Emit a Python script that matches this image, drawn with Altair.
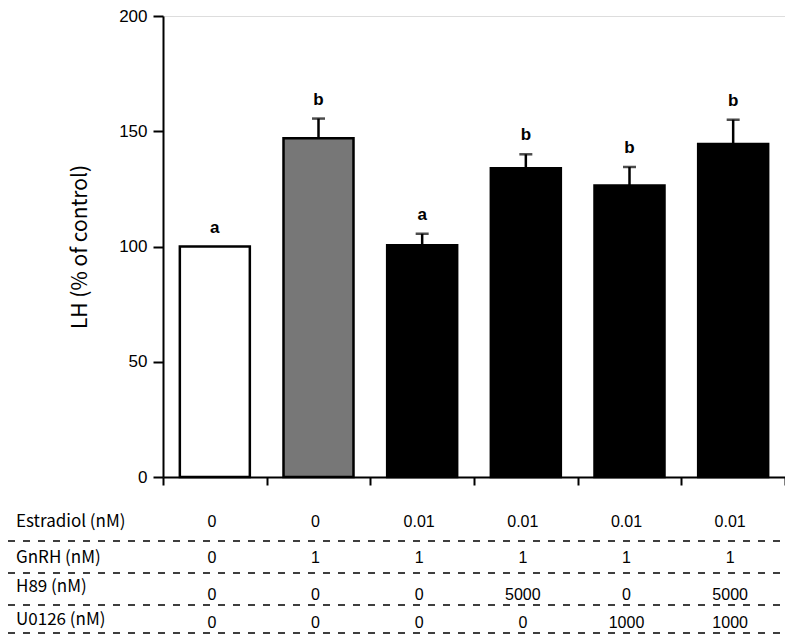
import altair as alt
import pandas as pd

# ---- data ----
groups = ["Control", "GnRH", "E2+GnRH", "E2+GnRH+H89", "E2+GnRH+U0126", "E2+GnRH+H89+U0126"]
lh_mean = [100, 147, 100.5, 134, 126.5, 144.5]
lh_sem = [0, 8.5, 5, 6, 8, 10.5]
letters = ["a", "b", "a", "b", "b", "b"]
bar_fills = ["#ffffff", "#777777", "#000000", "#000000", "#000000", "#000000"]

row_labels = ["Estradiol (nM)", "GnRH (nM)", "H89 (nM)", "U0126 (nM)"]
estradiol = ["0", "0", "0.01", "0.01", "0.01", "0.01"]
gnrh = ["0", "1", "1", "1", "1", "1"]
h89 = ["0", "0", "0", "5000", "0", "5000"]
u0126 = ["0", "0", "0", "0", "1000", "1000"]
y_ticks = [0, 50, 100, 150, 200]

# ---- tables ----
bars_df = pd.DataFrame({"group": groups, "mean": lh_mean, "sem": lh_sem, "letter": letters})
bars_df["top"] = bars_df["mean"] + bars_df["sem"]

table_rows = []
for i, (lab, vals) in enumerate(zip(row_labels, [estradiol, gnrh, h89, u0126])):
    for g, v in zip(groups, vals):
        table_rows.append({"ri": i, "group": g, "val": v})
table_df = pd.DataFrame(table_rows)
labels_df = pd.DataFrame({"ri": list(range(len(row_labels))), "label": row_labels})

W, H = 622, 461
row_idx = [0, 1, 2, 3]
yscale = alt.Scale(domain=[0, 200], nice=False, zero=True)
x_enc = alt.X(
    "group:N",
    sort=groups,
    scale=alt.Scale(domain=groups, paddingInner=0, paddingOuter=0),
    axis=alt.Axis(
        labels=False, title=None, tickBand="extent", grid=False,
        domainColor="black", domainWidth=2, tickColor="black", tickWidth=2, tickSize=8,
    ),
)

base = alt.Chart(bars_df)

bars = base.mark_bar(stroke="black", strokeWidth=2.5, width=70).encode(
    x=x_enc,
    y=alt.Y(
        "mean:Q", scale=yscale,
        axis=alt.Axis(
            values=y_ticks, grid=False, title="LH (% of control)",
            titleFont="Noto Sans CJK JP", titleFontSize=21, titleFontWeight="normal",
            titleColor="black", titlePadding=28,
            labelFont="Liberation Sans", labelFontSize=17, labelColor="black", labelPadding=6,
            domainColor="black", domainWidth=2, tickColor="black", tickWidth=2, tickSize=10,
        ),
    ),
    fill=alt.Fill("group:N", scale=alt.Scale(domain=groups, range=bar_fills), legend=None),
)

err_rule = base.transform_filter("datum.sem > 0").mark_rule(color="black", strokeWidth=2.5).encode(
    x=x_enc,
    y=alt.Y("mean:Q", scale=yscale, axis=None),
    y2="top:Q",
)
err_cap = base.transform_filter("datum.sem > 0").mark_tick(color="black", thickness=2.5, size=13).encode(
    x=x_enc,
    y=alt.Y("top:Q", scale=yscale, axis=None),
)
letter_txt = base.mark_text(
    font="Liberation Sans", fontSize=17, fontWeight="bold", color="black", baseline="middle", dy=-19
).encode(
    x=x_enc,
    y=alt.Y("top:Q", scale=yscale, axis=None),
    text="letter:N",
)

table_vals = alt.Chart(table_df).mark_text(
    font="Liberation Sans", fontSize=16, color="black", baseline="middle", dx=-3
).encode(
    x=x_enc,
    y=alt.Y("ri:Q", scale=alt.Scale(domain=row_idx, range=[506, 542, 579, 607]), axis=None),
    text="val:N",
)
table_labels = alt.Chart(labels_df).mark_text(
    font="Noto Sans CJK JP", fontSize=17, color="black", baseline="middle", align="left"
).encode(
    x=alt.value(-147),
    y=alt.Y("ri:Q", scale=alt.Scale(domain=row_idx, range=[506, 542, 571, 604]), axis=None),
    text="label:N",
)
table_lines = alt.Chart(labels_df).mark_rule(color="black", strokeWidth=1.5, strokeDash=[7, 8]).encode(
    x=alt.value(-155),
    x2=alt.value(W),
    y=alt.Y("ri:Q", scale=alt.Scale(domain=row_idx, range=[525, 557, 589, 617]), axis=None),
)

chart = alt.layer(
    bars, err_rule, err_cap, letter_txt, table_vals, table_labels, table_lines
).resolve_scale(y="independent").properties(
    width=W, height=H,
    autosize=alt.AutoSizeParams(type="none"),
    padding={"left": 155, "top": 8, "right": 0, "bottom": 158},
).configure_view(stroke=None).configure(background="white")

chart.save("out.html", embed_options={"renderer": "svg", "actions": False})
